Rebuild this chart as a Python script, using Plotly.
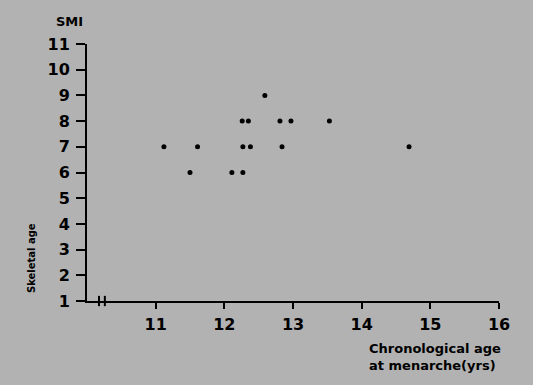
import plotly.graph_objects as go

# Data
menarche_age = [11.12, 11.50, 11.61, 12.11, 12.26, 12.27, 12.27, 12.35, 12.38,
                12.59, 12.81, 12.84, 12.97, 13.53, 14.69]
skeletal_smi = [7, 6, 7, 6, 8, 7, 6, 8, 7,
                9, 8, 7, 8, 8, 7]
x_ticks = [11, 12, 13, 14, 15, 16]
y_ticks = [1, 2, 3, 4, 5, 6, 7, 8, 9, 10, 11]
axis_break = [10.175, 10.26]

FONT = "DejaVu Sans, Liberation Sans, sans-serif"

fig = go.Figure()
fig.add_trace(go.Scatter(
    x=menarche_age, y=skeletal_smi, mode="markers",
    marker=dict(color="black", size=5),
    showlegend=False, hoverinfo="x+y",
))

shapes = []
for bx in axis_break:
    shapes.append(dict(type="line", xref="x", yref="paper",
                       x0=bx, x1=bx, y0=-0.02, y1=0.02,
                       line=dict(color="black", width=2)))

fig.update_layout(
    width=533, height=385,
    margin=dict(l=87, r=34, t=44, b=84),
    paper_bgcolor="#b2b2b2", plot_bgcolor="#b2b2b2",
    font=dict(family=FONT, color="black"),
    shapes=shapes,
    xaxis=dict(range=[10, 16], tickvals=x_ticks, ticks="outside", ticklen=6,
               tickwidth=2, tickcolor="black", showline=True, linewidth=2,
               linecolor="black", showgrid=False, zeroline=False,
               ticklabelstandoff=2,
               tickfont=dict(size=16, family=FONT, weight="bold")),
    yaxis=dict(range=[1, 11], tickvals=y_ticks, ticks="outside", ticklen=9,
               tickwidth=2, tickcolor="black", showline=True, linewidth=2,
               linecolor="black", showgrid=False, zeroline=False,
               ticklabelstandoff=3,
               tickfont=dict(size=16, family=FONT, weight="bold")),
    annotations=[
        dict(text="SMI", xref="paper", yref="paper", x=-0.042, y=1.086,
             xanchor="center", yanchor="middle",
             showarrow=False, font=dict(size=13, family=FONT, weight="bold")),
        dict(text="Skeletal age", xref="paper", yref="paper", x=-0.136, y=0.167,
             xanchor="center", yanchor="middle",
             textangle=-90, showarrow=False,
             font=dict(size=10, family=FONT, weight="bold")),
        dict(text="Chronological age", xref="paper", yref="paper",
             x=0.679, y=-0.185, xanchor="left", yanchor="middle",
             showarrow=False, font=dict(size=13, family=FONT, weight="bold")),
        dict(text="at menarche(yrs)", xref="paper", yref="paper",
             x=0.679, y=-0.252, xanchor="left", yanchor="middle",
             showarrow=False, font=dict(size=13, family=FONT, weight="bold")),
    ],
)

fig.write_html(
    "out.html",
    config={"displayModeBar": False},
    post_script="document.body.style.margin='0';document.body.style.background='#b2b2b2';",
)
